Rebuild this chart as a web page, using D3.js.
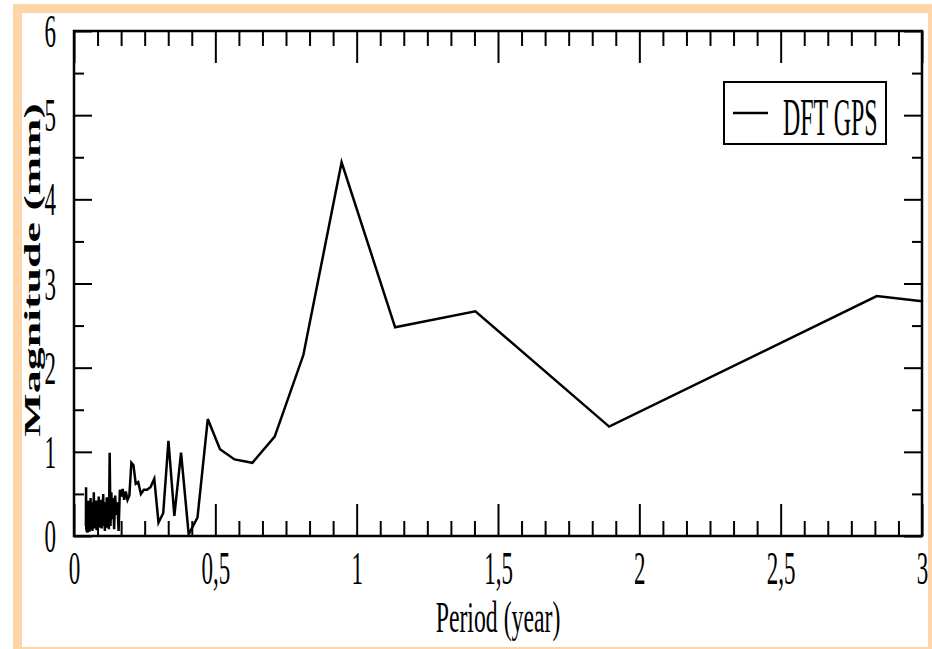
<!DOCTYPE html>
<html lang="pt-br">
<head>
  <meta charset="utf-8">
  <title>DFT GPS</title>
  <script src="https://d3js.org/d3.v7.min.js"></script>
  <style>
    body { margin: 0; background: #fff; }
    .eixo text { font-family: "Liberation Serif", "DejaVu Serif", serif; fill: #000; }
    .eixo line { stroke: #000; stroke-width: 2; }
  </style>
</head>
<body>
  <div id="chart"></div>
  <script>
    "use strict"
    // periodo (anos) e magnitude (mm)
    var periodo = [
      0.0421, 0.0427, 0.0434, 0.0440, 0.0447, 0.0454, 0.0462, 0.0469, 0.0477, 0.0485,
      0.0494, 0.0503, 0.0512, 0.0521, 0.0531, 0.0541, 0.0551, 0.0562, 0.0574, 0.0586,
      0.0598, 0.0611, 0.0624, 0.0638, 0.0653, 0.0668, 0.0684, 0.0701, 0.0719, 0.0738,
      0.0757, 0.0778, 0.0800, 0.0823, 0.0848, 0.0874, 0.0902, 0.0931, 0.0947, 0.0963,
      0.0979, 0.0996, 0.1014, 0.1033, 0.1052, 0.1072, 0.1092, 0.1114, 0.1136, 0.1159,
      0.1183, 0.1209, 0.1235, 0.1262, 0.1291, 0.1321, 0.1352, 0.1385, 0.1420, 0.1456,
      0.1495, 0.1535, 0.1578, 0.1623, 0.1671, 0.1721, 0.1775, 0.1832, 0.1893, 0.1959,
      0.2029, 0.2104, 0.2185, 0.2272, 0.2367, 0.2470, 0.2582, 0.2705, 0.2840, 0.2989,
      0.3156, 0.3341, 0.3550, 0.3787, 0.4057, 0.4369, 0.4733, 0.5164, 0.5680, 0.6311,
      0.7100, 0.8114, 0.9467, 1.1360, 1.4200, 1.8933, 2.8400, 5.6800
    ];
    var magnitude = [
      0.12, 0.58, 0.08, 0.30, 0.05, 0.38, 0.10, 0.28, 0.04, 0.35,
      0.12, 0.42, 0.06, 0.25, 0.15, 0.38, 0.05, 0.30, 0.10, 0.45,
      0.08, 0.35, 0.18, 0.40, 0.06, 0.32, 0.12, 0.52, 0.09, 0.36,
      0.20, 0.42, 0.07, 0.30, 0.14, 0.47, 0.10, 0.38, 0.22, 0.43,
      0.09, 0.34, 0.18, 0.50, 0.12, 0.28, 0.06, 0.40, 0.15, 0.46,
      0.10, 0.30, 0.08, 0.99, 0.12, 0.52, 0.20, 0.45, 0.08, 0.48,
      0.25, 0.40, 0.06, 0.55, 0.47, 0.56, 0.43, 0.53, 0.43, 0.48,
      0.87, 0.84, 0.62, 0.64, 0.50, 0.55, 0.55, 0.58, 0.68, 0.16,
      0.27, 1.13, 0.24, 0.99, 0.02, 0.22, 1.39, 1.03, 0.91, 0.87,
      1.18, 2.15, 4.44, 2.48, 2.67, 1.30, 2.85, 1.78
    ];
    var ticksX = [0, 0.5, 1, 1.5, 2, 2.5, 3];
    var ticksY = [0, 1, 2, 3, 4, 5, 6];
    var serie = "DFT GPS";

    var larguraSVG = 932, alturaSVG = 649;
    var margin = {top: 31, right: 10, bottom: 113, left: 74};
    var larguraVis = 922 - margin.left, alturaVis = 536 - margin.top;

    var svg = d3.select('#chart').append('svg')
        .attr('width', larguraSVG)
        .attr('height', alturaSVG);

    // moldura laranja
    svg.append('rect')
      .attr('x', 17.5).attr('y', 8.5)
      .attr('width', 915).attr('height', 643)
      .attr('fill', 'none')
      .attr('stroke', '#fed5a9')
      .attr('stroke-width', 9);

    var grafico = svg.append('g')
        .attr('transform', 'translate(' + margin.left + ',' + margin.top + ')');

    var x = d3.scaleLinear().domain([0, 3]).range([0, larguraVis]);
    var y = d3.scaleLinear().domain([0, 6]).range([alturaVis, 0]);

    var menoresX = d3.range(0, 37).map(i => i / 12).filter(v => Math.abs(v * 2 - Math.round(v * 2)) > 1e-6);
    var menoresY = [0.5, 1.5, 2.5, 3.5, 4.5, 5.5];
    var virgula = d => String(d).replace('.', ',');

    // comprime o texto na horizontal (fonte estreita do original)
    function aperta(sel, sx) {
      sel.each(function() {
        var t = d3.select(this);
        var px = +t.attr('x') || 0;
        t.attr('x', 0).attr('transform', 'translate(' + px + ',0) scale(' + sx + ',1)');
      });
    }

    // eixo inferior
    var gx = grafico.append('g').attr('class', 'eixo')
      .attr('transform', 'translate(0,' + alturaVis + ')')
      .call(d3.axisBottom(x).tickValues(ticksX).tickSizeInner(-32).tickSizeOuter(0)
        .tickPadding(15).tickFormat(virgula));
    gx.attr('font-size', 46).attr('font-family', null);
    aperta(gx.selectAll('text'), 0.5);
    grafico.append('g').attr('class', 'eixo')
      .attr('transform', 'translate(0,' + alturaVis + ')')
      .call(d3.axisBottom(x).tickValues(menoresX).tickSizeInner(-15).tickSizeOuter(0).tickFormat(''));

    // eixo superior
    grafico.append('g').attr('class', 'eixo')
      .call(d3.axisTop(x).tickValues(ticksX).tickSizeInner(-32).tickSizeOuter(0).tickFormat(''));
    grafico.append('g').attr('class', 'eixo')
      .call(d3.axisTop(x).tickValues(menoresX).tickSizeInner(-15).tickSizeOuter(0).tickFormat(''));

    // eixo esquerdo
    var gy = grafico.append('g').attr('class', 'eixo')
      .call(d3.axisLeft(y).tickValues(ticksY).tickSizeInner(-18).tickSizeOuter(0)
        .tickPadding(18).tickFormat(virgula));
    gy.attr('font-size', 46).attr('font-family', null);
    gy.selectAll('text').attr('dy', '0.34em');
    aperta(gy.selectAll('text'), 0.5);
    grafico.append('g').attr('class', 'eixo')
      .call(d3.axisLeft(y).tickValues(menoresY).tickSizeInner(-10).tickSizeOuter(0).tickFormat(''));

    // eixo direito
    grafico.append('g').attr('class', 'eixo')
      .attr('transform', 'translate(' + larguraVis + ',0)')
      .call(d3.axisRight(y).tickValues(ticksY).tickSizeInner(-18).tickSizeOuter(0).tickFormat(''));
    grafico.append('g').attr('class', 'eixo')
      .attr('transform', 'translate(' + larguraVis + ',0)')
      .call(d3.axisRight(y).tickValues(menoresY).tickSizeInner(-10).tickSizeOuter(0).tickFormat(''));

    grafico.selectAll('.eixo .domain').remove();

    // moldura do grafico
    grafico.append('rect')
      .attr('width', larguraVis).attr('height', alturaVis)
      .attr('fill', 'none').attr('stroke', '#000').attr('stroke-width', 2.5);

    // a linha
    grafico.append('clipPath').attr('id', 'corte')
      .append('rect').attr('width', larguraVis).attr('height', alturaVis);

    var dados = periodo.map((p, i) => ({p: p, m: magnitude[i]}));
    var linha = d3.line().x(d => x(d.p)).y(d => y(d.m));
    grafico.append('path')
      .datum(dados)
      .attr('clip-path', 'url(#corte)')
      .attr('fill', 'none')
      .attr('stroke', '#000')
      .attr('stroke-width', 2.5)
      .attr('d', linha);

    // legenda
    var leg = svg.append('g');
    leg.append('rect')
      .attr('x', 724).attr('y', 82).attr('width', 162).attr('height', 62)
      .attr('fill', '#fff').attr('stroke', '#000').attr('stroke-width', 2);
    leg.append('line')
      .attr('x1', 733).attr('x2', 768).attr('y1', 113).attr('y2', 113)
      .attr('stroke', '#000').attr('stroke-width', 2.5);
    leg.append('text')
      .attr('transform', 'translate(783,135) scale(0.46,1)')
      .attr('font-family', '"Liberation Serif", serif')
      .attr('font-size', 52)
      .text(serie);

    // titulos dos eixos
    svg.append('text')
      .attr('transform', 'translate(' + (margin.left + larguraVis / 2) + ',632) scale(0.54,1)')
      .attr('text-anchor', 'middle')
      .attr('font-family', '"Liberation Serif", serif')
      .attr('font-size', 44)
      .text('Period (year)');
    svg.append('text')
      .attr('transform', 'translate(40,270) scale(0.52,1) rotate(-90)')
      .attr('text-anchor', 'middle')
      .attr('font-family', '"Liberation Serif", serif')
      .attr('font-weight', 'bold')
      .attr('font-size', 46)
      .text('Magnitude (mm)');
  </script>
</body>
</html>
